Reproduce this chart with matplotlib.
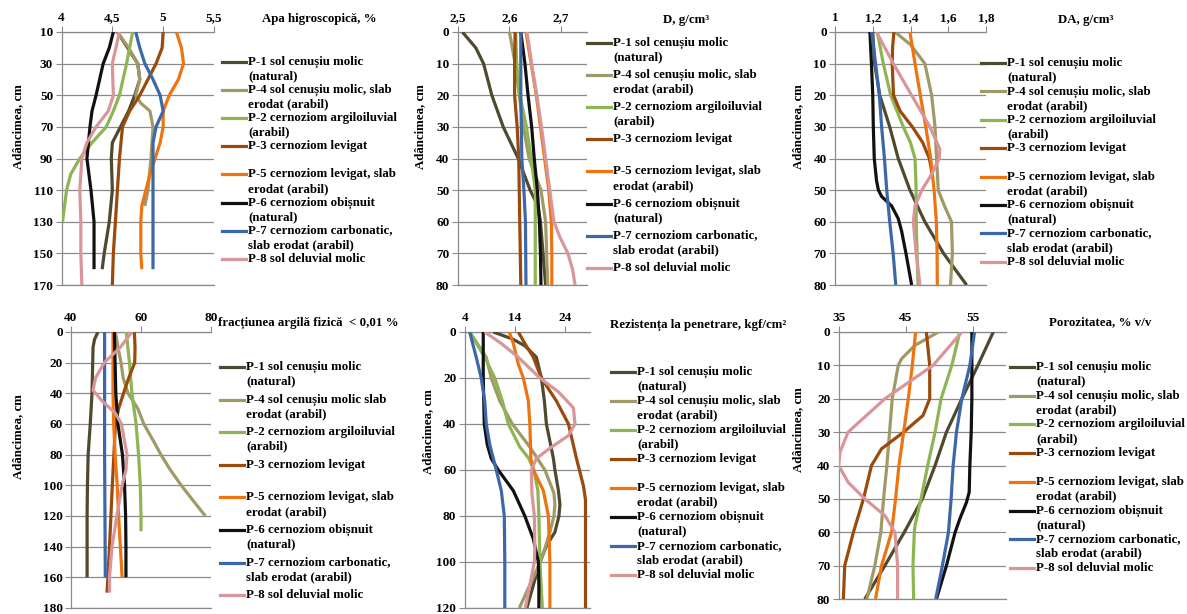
import matplotlib
matplotlib.use("Agg")
import matplotlib.pyplot as plt
from matplotlib.lines import Line2D
from matplotlib.ticker import FuncFormatter

plt.rcParams['font.family'] = ['Liberation Serif', 'DejaVu Serif']
plt.rcParams['font.weight'] = 'bold'

W, H = 1187, 614

# serii (ordine, culori)
series = ["P-1", "P-4", "P-2", "P-3", "P-5", "P-6", "P-7", "P-8"]
colors = ["#4f4a2f", "#a09a68", "#8eb453", "#9a4a0c", "#ed7410", "#111111", "#3d68a8", "#d9969a"]

labels = [
    "P-1 sol cenușiu molic\n(natural)",
    "P-4 sol cenușiu molic, slab\nerodat (arabil)",
    "P-2 cernoziom argiloiluvial\n(arabil)",
    "P-3 cernoziom levigat",
    "P-5 cernoziom levigat, slab\nerodat (arabil)",
    "P-6 cernoziom obișnuit\n(natural)",
    "P-7 cernoziom carbonatic,\nslab erodat (arabil)",
    "P-8 sol deluvial molic",
]
labels_argila = list(labels)
labels_argila[1] = "P-4 sol cenușiu molic slab\nerodat (arabil)"

# --- Apa higroscopica, %  (adancime, valoare)
apa = {
    "P-1": ([10, 20, 30, 40, 50, 60, 70, 80, 90, 110, 130, 150, 160],
            [4.55, 4.65, 4.75, 4.77, 4.72, 4.66, 4.58, 4.5, 4.49, 4.5, 4.47, 4.42, 4.4]),
    "P-4": ([10, 20, 30, 40, 50, 55, 60, 70, 90, 110, 120],
            [4.55, 4.66, 4.75, 4.77, 4.73, 4.78, 4.87, 4.9, 4.88, 4.85, 4.82]),
    "P-2": ([10, 30, 50, 60, 70, 80, 90, 100, 110, 130],
            [4.70, 4.64, 4.57, 4.51, 4.44, 4.3, 4.18, 4.09, 4.05, 4.01]),
    "P-3": ([10, 20, 30, 40, 50, 60, 70, 90, 110, 130, 150, 170],
            [5.0, 4.99, 4.93, 4.85, 4.77, 4.67, 4.6, 4.57, 4.55, 4.53, 4.51, 4.5]),
    "P-5": ([10, 20, 30, 40, 50, 60, 70, 80, 90, 100, 110, 120, 130, 150, 160],
            [5.13, 5.18, 5.2, 5.15, 5.06, 5.0, 5.0, 4.97, 4.92, 4.87, 4.83, 4.79, 4.78, 4.78, 4.79]),
    "P-6": ([10, 20, 30, 50, 60, 70, 90, 110, 130, 160],
            [4.51, 4.47, 4.41, 4.34, 4.3, 4.28, 4.25, 4.29, 4.32, 4.32]),
    "P-7": ([10, 20, 30, 40, 50, 60, 70, 80, 90, 110, 130, 150, 160],
            [4.73, 4.77, 4.82, 4.9, 4.97, 5.0, 4.93, 4.9, 4.9, 4.9, 4.9, 4.9, 4.9]),
    "P-8": ([10, 30, 50, 60, 70, 80, 90, 110, 130, 150, 170],
            [4.57, 4.5, 4.51, 4.46, 4.34, 4.25, 4.2, 4.18, 4.19, 4.19, 4.2]),
}

# --- D, g/cm3
dens = {
    "P-1": ([0, 5, 10, 20, 30, 40, 50, 55, 60, 70, 80],
            [2.509, 2.535, 2.55, 2.566, 2.588, 2.617, 2.64, 2.655, 2.66, 2.665, 2.67]),
    "P-4": ([0, 10, 20, 30, 40, 50, 60, 70, 80],
            [2.6, 2.611, 2.619, 2.627, 2.638, 2.661, 2.67, 2.672, 2.674]),
    "P-2": ([0, 10, 20, 30, 40, 50, 60, 80],
            [2.612, 2.614, 2.62, 2.633, 2.642, 2.65, 2.65, 2.65]),
    "P-3": ([0, 10, 20, 30, 40, 50, 60, 70, 80],
            [2.611, 2.61, 2.61, 2.615, 2.618, 2.619, 2.62, 2.621, 2.622]),
    "P-5": ([0, 10, 20, 30, 40, 50, 60, 70, 80],
            [2.632, 2.642, 2.652, 2.66, 2.668, 2.676, 2.681, 2.682, 2.682]),
    "P-6": ([0, 10, 20, 30, 40, 50, 60, 70, 80],
            [2.622, 2.63, 2.636, 2.643, 2.648, 2.654, 2.658, 2.66, 2.661]),
    "P-7": ([0, 20, 40, 50, 60, 80],
            [2.622, 2.622, 2.624, 2.628, 2.631, 2.632]),
    "P-8": ([0, 10, 20, 30, 40, 50, 60, 65, 70, 75, 80],
            [2.634, 2.643, 2.653, 2.662, 2.67, 2.678, 2.686, 2.698, 2.713, 2.722, 2.727]),
}

# --- DA, g/cm3
da = {
    "P-1": ([0, 10, 20, 30, 40, 50, 60, 70, 80],
            [1.2, 1.21, 1.237, 1.29, 1.335, 1.397, 1.476, 1.575, 1.697]),
    "P-4": ([0, 4, 10, 20, 30, 40, 50, 55, 60, 70, 80],
            [1.318, 1.4, 1.476, 1.512, 1.53, 1.538, 1.547, 1.58, 1.617, 1.622, 1.612]),
    "P-2": ([0, 10, 20, 30, 35, 40, 50, 60, 70, 80],
            [1.224, 1.256, 1.295, 1.362, 1.4, 1.424, 1.43, 1.43, 1.435, 1.44]),
    "P-3": ([0, 5, 10, 20, 25, 30, 35, 40, 45],
            [1.312, 1.305, 1.303, 1.31, 1.345, 1.41, 1.465, 1.5, 1.515]),
    "P-5": ([0, 10, 20, 30, 40, 50, 60, 70, 80],
            [1.397, 1.424, 1.452, 1.481, 1.507, 1.525, 1.537, 1.541, 1.542]),
    "P-6": ([0, 10, 20, 30, 40, 47, 50, 52, 55, 59, 63, 70, 80],
            [1.185, 1.193, 1.2, 1.203, 1.208, 1.22, 1.23, 1.247, 1.3, 1.335, 1.353, 1.376, 1.406]),
    "P-7": ([0, 10, 20, 30, 40, 50, 60, 70, 80],
            [1.194, 1.215, 1.235, 1.247, 1.262, 1.274, 1.29, 1.308, 1.322]),
    "P-8": ([0, 10, 20, 30, 37, 40, 45, 50, 55, 60, 70, 80],
            [1.22, 1.309, 1.406, 1.503, 1.555, 1.552, 1.512, 1.46, 1.424, 1.415, 1.43, 1.45]),
}

# --- fractiunea argila fizica < 0,01 %
argila = {
    "P-1": ([0, 5, 10, 20, 40, 60, 80, 100, 120, 140, 160],
            [47.7, 46.7, 46.3, 46.2, 46.0, 45.5, 44.9, 44.7, 44.6, 44.6, 44.6]),
    "P-4": ([0, 10, 20, 30, 40, 50, 60, 70, 80, 90, 100, 110, 120],
            [52.7, 53.4, 54.3, 54.9, 56.3, 59.1, 60.8, 63.3, 65.7, 68.4, 71.5, 74.9, 78.4]),
    "P-2": ([0, 20, 40, 60, 80, 100, 120, 130],
            [55.8, 56.7, 57.4, 58.6, 59.3, 59.8, 60, 60]),
    "P-3": ([0, 10, 20, 30, 40, 50, 60, 100, 140, 170],
            [58.1, 58.3, 58.2, 56.5, 55.0, 53.6, 52.7, 51.8, 51.0, 50.3]),
    "P-5": ([0, 20, 40, 60, 80, 100, 120, 140, 160],
            [52.0, 52.0, 52.0, 52.2, 52.6, 53.2, 53.6, 54.1, 54.6]),
    "P-6": ([0, 20, 40, 60, 80, 100, 120, 140, 160],
            [52.4, 52.6, 52.8, 53.4, 54.7, 55.3, 55.6, 55.7, 55.7]),
    "P-7": ([0, 40, 80, 120, 160],
            [49.6, 49.6, 49.6, 49.7, 49.8]),
    "P-8": ([0, 10, 20, 30, 38, 45, 53, 60, 80, 90, 100, 120, 140, 160, 170],
            [57.4, 54.1, 49.5, 47.0, 46.3, 48.9, 52.7, 54.4, 56.0, 55.7, 54.6, 53.1, 51.7, 51.0, 51.0]),
}

# --- Rezistenta la penetrare, kgf/cm2
rezist = {
    "P-1": ([0, 3, 6, 11, 20, 30, 40, 55, 60, 69, 75, 80, 87, 93, 100, 110, 120],
            [9.7, 13.5, 16.0, 18.3, 19.3, 19.9, 20.3, 21.7, 22.0, 22.7, 23.0, 22.8, 22.0, 20.3, 19.0, 17.7, 16.4]),
    "P-4": ([0, 11, 20, 30, 40, 50, 60, 70, 75, 80, 87, 99, 110, 120],
            [5.0, 8.3, 9.3, 11.0, 13.5, 17.0, 20.0, 21.8, 22.0, 21.8, 21.0, 19.3, 17.0, 14.9]),
    "P-2": ([0, 11, 20, 30, 40, 50, 55, 60, 69, 80, 100, 120],
            [5.0, 8.0, 10.0, 11.5, 12.7, 15.0, 16.8, 17.8, 18.6, 18.8, 19.0, 19.5]),
    "P-3": ([0, 5, 11, 20, 30, 40, 55, 67, 73, 80, 100, 120],
            [14.7, 16.0, 17.7, 19.3, 22.3, 24.7, 26.3, 27.7, 28.1, 28.1, 28.1, 28.1]),
    "P-5": ([0, 5, 14, 20, 30, 40, 55, 60, 69, 80, 100, 120],
            [12.9, 13.7, 14.7, 15.7, 16.7, 17.0, 17.2, 17.7, 19.7, 20.7, 21.0, 21.0]),
    "P-6": ([0, 10, 20, 30, 40, 49, 55, 60, 69, 80, 90, 100, 110, 120],
            [7.7, 7.7, 7.7, 7.8, 7.9, 8.5, 9.3, 10.7, 13.7, 16.0, 17.7, 18.7, 18.8, 18.8]),
    "P-7": ([0, 11, 20, 30, 40, 49, 60, 69, 80, 100, 120],
            [5.0, 6.3, 7.3, 8.0, 8.3, 9.0, 10.3, 11.3, 11.9, 12.0, 12.0]),
    "P-8": ([0, 5, 11, 20, 26, 33, 40, 45, 51, 55, 60, 70, 80, 93, 100, 110, 120],
            [8.0, 11.3, 14.7, 19.0, 22.7, 25.7, 26.0, 24.7, 20.7, 18.3, 17.3, 17.4, 17.9, 18.0, 17.9, 17.0, 16.1]),
}

# --- Porozitatea, % v/v
poroz = {
    "P-1": ([0, 10, 20, 30, 40, 50, 60, 70, 80],
            [58.1, 55.8, 53.4, 51.1, 49.4, 47.5, 44.8, 41.9, 38.9]),
    "P-4": ([0, 4, 8, 10, 20, 30, 40, 50, 60, 70, 80],
            [49.9, 46.4, 44.4, 43.9, 43.0, 42.6, 42.2, 41.7, 41.3, 40.4, 39.2]),
    "P-2": ([0, 10, 20, 30, 40, 50, 58, 60, 70, 80],
            [53.1, 51.9, 50.3, 49.4, 48.3, 47.3, 46.4, 46.3, 46.1, 46.2]),
    "P-3": ([0, 10, 20, 25, 30, 35, 40, 50, 60, 70, 80],
            [48.1, 48.6, 48.6, 47.6, 44.7, 41.4, 39.9, 38.7, 37.2, 35.9, 35.7]),
    "P-5": ([0, 10, 20, 30, 40, 50, 60, 70, 80],
            [46.5, 46.0, 45.4, 44.7, 44.0, 43.5, 42.9, 41.4, 40.5]),
    "P-6": ([0, 10, 20, 30, 40, 48, 51, 56, 60, 70, 80],
            [54.9, 54.9, 54.9, 54.8, 54.6, 54.5, 54.1, 53.1, 52.4, 51.1, 49.6]),
    "P-7": ([0, 10, 20, 30, 40, 50, 60, 70, 80],
            [55.3, 54.6, 53.4, 52.6, 52.1, 51.8, 51.4, 50.5, 49.5]),
    "P-8": ([0, 10, 20, 30, 36, 40, 45, 50, 55, 60, 70, 80],
            [53.4, 49.1, 41.9, 36.4, 35.2, 35.0, 36.4, 38.9, 41.9, 43.4, 43.8, 43.8]),
}

GRID = "#8a8a8a"


def fx(x):
    return x / W


def fy(y):
    return 1 - y / H


def comma(v, pos):
    s = f"{v:g}"
    return s.replace(".", ",")


def panel(box, data, xlim, xticks, ylim, yticks, title, title_xy, ylab_xy,
          leg_x, leg_y0, leg_dy, leg_labels):
    x0, y0, x1, y1 = box
    ax = fig.add_axes([fx(x0), fy(y1), fx(x1 - x0), (y1 - y0) / H])
    for s, c in zip(series, colors):
        d, v = data[s]
        ax.plot(v, d, color=c, lw=2.3, solid_joinstyle="round", solid_capstyle="butt", zorder=3)
    ax.set_xlim(*xlim)
    ax.set_ylim(ylim[1], ylim[0])
    ax.set_xticks(xticks)
    ax.set_yticks(yticks)
    ax.xaxis.set_major_formatter(FuncFormatter(comma))
    ax.xaxis.tick_top()
    ax.tick_params(axis="x", direction="out", length=4, width=0.8, color=GRID,
                   labelsize=9.5, pad=2)
    ax.tick_params(axis="y", direction="out", length=4, width=0.8, color=GRID,
                   labelsize=9.5, pad=2)
    for lab in ax.get_xticklabels() + ax.get_yticklabels():
        lab.set_fontweight("bold")
    ax.grid(axis="y", color=GRID, lw=0.9, zorder=0)
    ax.spines["right"].set_visible(False)
    for sp in ("top", "bottom"):
        ax.spines[sp].set_color(GRID)
        ax.spines[sp].set_linewidth(0.9)
    ax.spines["left"].set_color(GRID)
    ax.spines["left"].set_linewidth(0.9)
    ax.patch.set_alpha(0)

    fig.text(fx(title_xy[0]), fy(title_xy[1]), title, ha="center", va="center",
             fontsize=9.3, fontweight="bold")
    fig.text(fx(ylab_xy[0]), fy(ylab_xy[1]), "Adâncimea, cm", ha="center", va="center",
             rotation=90, fontsize=9.3, fontweight="bold")

    # legenda
    for i, (lab, c) in enumerate(zip(leg_labels, colors)):
        yy = leg_y0 + i * leg_dy
        fig.add_artist(Line2D([fx(leg_x), fx(leg_x + 24)], [fy(yy), fy(yy)],
                              transform=fig.transFigure, color=c, lw=2.3))
        for j, line in enumerate(lab.split("\n")):
            fig.text(fx(leg_x + 26), fy(yy + j * 14.5), line, ha="left", va="center",
                     fontsize=9.3, fontweight="bold")
    return ax


fig = plt.figure(figsize=(W / 100, H / 100), dpi=100)

panel((61.5, 32, 214, 285), apa, (4, 5.5), [4, 4.5, 5, 5.5], (10, 170), range(10, 171, 20),
      "Apa higroscopică, %", (319, 19), (18, 127), 222, 62, 28.1, labels)
panel((457.7, 32, 587, 285), dens, (2.5, 2.75), [2.5, 2.6, 2.7], (0, 80), range(0, 81, 10),
      "D, g/cm³", (686, 20), (420, 127), 587, 43, 32.1, labels)
panel((835, 32, 986, 285), da, (1.0, 1.8), [1, 1.2, 1.4, 1.6, 1.8], (0, 80), range(0, 81, 10),
      "DA, g/cm³", (1086, 20), (798, 127), 981, 63, 28.4, labels)
panel((71, 332, 211, 608), argila, (40, 80), [40, 60, 80], (0, 180), range(0, 181, 20),
      "fracțiunea argilă fizică  < 0,01 %", (308, 323), (18, 437), 220, 367, 32.6, labels_argila)
panel((464.7, 332, 590, 608), rezist, (4, 29), [4, 14, 24], (0, 120), range(0, 121, 20),
      "Rezistența la penetrare, kgf/cm²", (698, 325), (428, 432), 611, 372, 29.0, labels)
panel((838.7, 332, 1006, 599), poroz, (35, 60), [35, 45, 55], (0, 80), range(0, 81, 10),
      "Porozitatea, % v/v", (1100, 322), (798, 430), 1010, 367, 28.7, labels)

fig.savefig("out.png", dpi=100)
